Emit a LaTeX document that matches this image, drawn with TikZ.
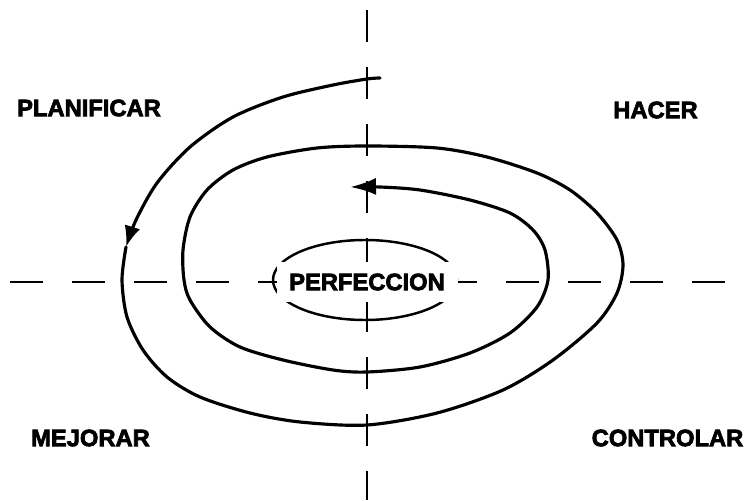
\documentclass[tikz,border=0pt]{standalone}
\usepackage{fontspec}
\setmainfont{Liberation Sans}
\newfontfamily\stagefont{Liberation Sans}[BoldFeatures={FakeBold=3}]
\usetikzlibrary{arrows.meta}

\begin{document}
\begin{tikzpicture}[
    spiral/.style={line width=1.8pt, line join=round, line cap=round},
    axis/.style={line width=1.5pt, dash pattern=on 0.66cm off 0.58cm},
    vaxis/.style={axis, dash pattern=on 0.64cm off 0.5cm},
    stage/.style={font=\stagefont\fontsize{13.5}{16}\selectfont\bfseries}
]
    \useasboundingbox (-7.34,-4.38) rectangle (7.56,5.64);

    % Dashed axes
    \draw[axis] (-7.14,0) -- (7.3,0);
    \draw[vaxis] (0,5.44) -- (0,0.4);
    \draw[vaxis] (0,-0.36) -- (0,-4.36);

    % Centre: PERFECCION
    \draw[line width=1.4pt] (-0.04,0.04) ellipse (1.84cm and 0.8cm);
    \node[stage, fill=white, minimum width=3.62cm, minimum height=0.8cm, inner sep=0] (perf) at (0,0) {PERFECCION};

    % Spiral, outer part down to the first arrow
    \draw[spiral, -{Latex[length=0.42cm, width=0.32cm]}] plot[smooth] coordinates {
        (0.26,4.08) (0,4.06) (-0.68,3.94) (-1.68,3.70) (-2.68,3.30)
        (-3.54,2.70) (-4.20,1.98) (-4.62,1.24) (-4.82,0.70)};
    % Spiral, rest in to the centre
    \draw[spiral, -{Latex[length=0.52cm, width=0.34cm]}] plot[smooth] coordinates {
        (-4.82,0.70) (-4.90,0.04) (-4.80,-0.70) (-4.48,-1.36) (-4.00,-1.90)
        (-3.34,-2.30) (-2.34,-2.62) (-1.34,-2.80) (0,-2.86) (1.40,-2.62)
        (2.72,-2.16) (3.72,-1.56) (4.60,-0.82) (5.00,-0.22) (5.12,0.34)
        (5.00,0.84) (4.60,1.38) (4.06,1.84) (3.40,2.18) (2.40,2.50)
        (1.40,2.68) (0,2.72) (-1.00,2.68) (-2.00,2.50) (-2.68,2.24)
        (-3.20,1.84) (-3.54,1.30) (-3.68,0.64) (-3.66,0.04) (-3.54,-0.36)
        (-3.14,-0.90) (-2.54,-1.30) (-1.68,-1.56) (-0.68,-1.76) (0,-1.80)
        (1.06,-1.70) (2.06,-1.42) (2.86,-1.02) (3.40,-0.50) (3.62,0.04)
        (3.56,0.64) (3.32,1.04) (2.86,1.38) (2.06,1.64) (1.06,1.84)
        (0.26,1.90) (-0.34,1.90)};

    % Quadrant labels
    \node[stage] (plan) at (-5.56,3.48) {PLANIFICAR};
    \node[stage] (hacer) at (5.77,3.44) {HACER};
    \node[stage] (mejorar) at (-5.53,-3.12) {MEJORAR};
    \node[stage] (controlar) at (6.01,-3.12) {CONTROLAR};
\end{tikzpicture}
\end{document}
